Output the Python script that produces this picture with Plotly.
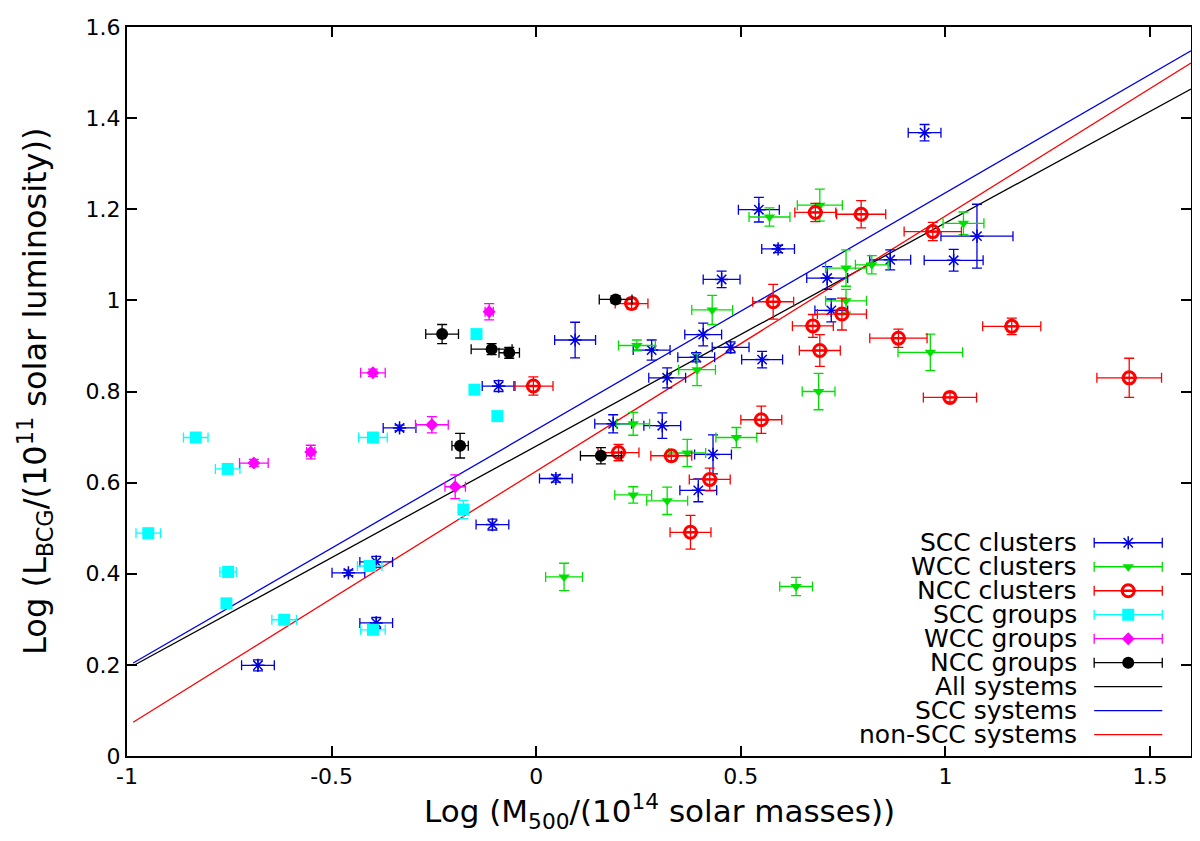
import plotly.graph_objects as go

# ---------------- data ----------------
# SCC clusters (blue asterisks)
scc_cl_x = [-0.680, -0.459, -0.391, -0.391, -0.334, -0.092, -0.107, 0.048, 0.095, 0.188,
            0.308, 0.282, 0.320, 0.391, 0.408, 0.475, 0.552, 0.453, 0.432, 0.396,
            0.544, 0.591, 0.711, 0.721, 0.865, 0.949, 1.020, 1.077]
scc_cl_y = [0.199, 0.402, 0.426, 0.292, 0.720, 0.812, 0.508, 0.609, 0.913, 0.729,
            0.725, 0.891, 0.830, 0.875, 0.925, 0.897, 0.870, 1.046, 0.662, 0.583,
            1.199, 1.113, 1.049, 0.978, 1.089, 1.368, 1.088, 1.141]
scc_cl_xerr = [0.040, 0.040, 0.040, 0.040, 0.040, 0.040, 0.040, 0.040, 0.050, 0.045,
               0.045, 0.045, 0.045, 0.045, 0.045, 0.045, 0.050, 0.045, 0.045, 0.045,
               0.050, 0.040, 0.050, 0.040, 0.050, 0.040, 0.072, 0.088]
scc_cl_yerr = [0.012, 0.006, 0.012, 0.012, 0.006, 0.012, 0.012, 0.008, 0.039, 0.020,
               0.028, 0.022, 0.022, 0.010, 0.025, 0.012, 0.018, 0.018, 0.043, 0.025,
               0.027, 0.008, 0.025, 0.025, 0.022, 0.018, 0.024, 0.070]

# WCC clusters (green triangles)
wcc_cl_x = [0.068, 0.237, 0.320, 0.237, 0.369, 0.489, 0.393, 0.246, 0.430, 0.690,
            0.635, 0.757, 0.757, 0.820, 0.570, 0.693, 1.044, 0.963]
wcc_cl_y = [0.393, 0.573, 0.560, 0.729, 0.665, 0.699, 0.848, 0.901, 0.979, 0.800,
            0.372, 0.999, 1.071, 1.078, 1.183, 1.209, 1.169, 0.886]
wcc_cl_xerr = [0.045, 0.045, 0.050, 0.040, 0.045, 0.050, 0.045, 0.045, 0.050, 0.040,
               0.040, 0.050, 0.050, 0.040, 0.050, 0.055, 0.050, 0.079]
wcc_cl_yerr = [0.030, 0.018, 0.030, 0.025, 0.030, 0.022, 0.035, 0.012, 0.032, 0.040,
               0.020, 0.025, 0.040, 0.020, 0.020, 0.035, 0.025, 0.040]

# NCC clusters (red circles)
ncc_cl_x = [-0.007, 0.233, 0.201, 0.330, 0.424, 0.377, 0.550, 0.579, 0.676, 0.693,
            0.747, 0.682, 0.794, 0.969, 0.885, 1.162, 1.011, 1.449]
ncc_cl_y = [0.812, 0.993, 0.666, 0.659, 0.607, 0.491, 0.738, 0.997, 0.944, 0.890,
            0.970, 1.193, 1.189, 1.151, 0.917, 0.943, 0.787, 0.830]
ncc_cl_xerr = [0.048, 0.040, 0.050, 0.050, 0.050, 0.050, 0.050, 0.050, 0.050, 0.050,
               0.060, 0.050, 0.060, 0.070, 0.070, 0.071, 0.065, 0.079]
ncc_cl_yerr = [0.020, 0.012, 0.018, 0.012, 0.025, 0.037, 0.030, 0.038, 0.025, 0.035,
               0.035, 0.020, 0.030, 0.020, 0.020, 0.018, 0.010, 0.043]

# SCC groups (cyan squares)
scc_gr_x = [-0.948, -0.832, -0.754, -0.753, -0.757, -0.616, -0.399, -0.407, -0.399,
            -0.146, -0.151, -0.095, -0.178]
scc_gr_y = [0.489, 0.699, 0.630, 0.404, 0.335, 0.299, 0.699, 0.417, 0.277,
            0.926, 0.804, 0.746, 0.541]
scc_gr_xerr = [0.030, 0.030, 0.030, 0.020, 0.000, 0.030, 0.035, 0.030, 0.030,
               0.000, 0.010, 0.010, 0.010]
scc_gr_yerr = [0.005, 0.005, 0.005, 0.008, 0.005, 0.005, 0.005, 0.008, 0.008,
               0.005, 0.005, 0.008, 0.020]

# WCC groups (magenta diamonds)
wcc_gr_x = [-0.690, -0.551, -0.399, -0.255, -0.198, -0.115]
wcc_gr_y = [0.643, 0.667, 0.841, 0.727, 0.591, 0.975]
wcc_gr_xerr = [0.035, 0.010, 0.030, 0.040, 0.025, 0.010]
wcc_gr_yerr = [0.008, 0.015, 0.008, 0.018, 0.026, 0.018]

# NCC groups (black circles)
ncc_gr_x = [-0.230, -0.109, -0.066, 0.194, -0.186, 0.158]
ncc_gr_y = [0.926, 0.893, 0.885, 1.002, 0.681, 0.659]
ncc_gr_xerr = [0.040, 0.050, 0.025, 0.040, 0.020, 0.050]
ncc_gr_yerr = [0.021, 0.012, 0.012, 0.008, 0.027, 0.018]

# Fitted relations (end points)
fit_x = [-0.985, 1.6]
fit_all_y = [0.198, 1.464]
fit_scc_y = [0.204, 1.548]
fit_nonscc_y = [0.074, 1.521]

# Axes ticks
x_ticks = [-1, -0.5, 0, 0.5, 1, 1.5]
x_tick_labels = ["-1", "-0.5", "0", "0.5", "1", "1.5"]
y_ticks = [0, 0.2, 0.4, 0.6, 0.8, 1.0, 1.2, 1.4, 1.6]
y_tick_labels = ["0", "0.2", "0.4", "0.6", "0.8", "1", "1.2", "1.4", "1.6"]

legend_labels = ["SCC clusters", "WCC clusters", "NCC clusters", "SCC groups",
                 "WCC groups", "NCC groups", "All systems", "SCC systems", "non-SCC systems"]

x_title = "Log (M<sub>500</sub>/(10<sup>14</sup> solar masses))"
y_title = "Log (L<sub>BCG</sub>/(10<sup>11</sup> solar luminosity))"

# ---------------- styles ----------------
FONT = "DejaVu Sans, Liberation Sans, Arial, sans-serif"
C_BLUE = "#0000e0"
C_GREEN = "#00e000"
C_RED = "#ff0000"
C_CYAN = "#00ffff"
C_MAG = "#ff00ff"
C_BLACK = "#000000"

point_series = [
    (scc_cl_x, scc_cl_y, scc_cl_xerr, scc_cl_yerr, C_BLUE,
     dict(symbol="asterisk-open", size=11, color=C_BLUE, line=dict(color=C_BLUE, width=1.5))),
    (wcc_cl_x, wcc_cl_y, wcc_cl_xerr, wcc_cl_yerr, C_GREEN,
     dict(symbol="triangle-down", size=10, color=C_GREEN, line=dict(width=0))),
    (ncc_cl_x, ncc_cl_y, ncc_cl_xerr, ncc_cl_yerr, C_RED,
     dict(symbol="circle-open", size=12, color=C_RED, line=dict(color=C_RED, width=3))),
    (scc_gr_x, scc_gr_y, scc_gr_xerr, scc_gr_yerr, C_CYAN,
     dict(symbol="square", size=12, color=C_CYAN, line=dict(width=0))),
    (wcc_gr_x, wcc_gr_y, wcc_gr_xerr, wcc_gr_yerr, C_MAG,
     dict(symbol="diamond", size=10, color=C_MAG, line=dict(width=0))),
    (ncc_gr_x, ncc_gr_y, ncc_gr_xerr, ncc_gr_yerr, C_BLACK,
     dict(symbol="circle", size=12, color=C_BLACK, line=dict(width=0))),
]
line_series = [(fit_all_y, C_BLACK), (fit_scc_y, C_BLUE), (fit_nonscc_y, C_RED)]
bar_marker = dict(symbol="line-ew", size=11, color=C_RED, line=dict(color=C_RED, width=2.5))

fig = go.Figure()

# fitted lines
for ys, col in line_series:
    fig.add_trace(go.Scatter(x=fit_x, y=ys, mode="lines",
                             line=dict(color=col, width=1.3), showlegend=False,
                             hoverinfo="skip"))

# data points
for xs, ys, xe, ye, col, mk in point_series:
    fig.add_trace(go.Scatter(
        x=xs, y=ys, mode="markers", marker=mk, showlegend=False,
        error_x=dict(type="data", array=xe, color=col, thickness=1.3, width=5),
        error_y=dict(type="data", array=ye, color=col, thickness=1.3, width=5),
    ))
    if col == C_RED:
        fig.add_trace(go.Scatter(x=xs, y=ys, mode="markers", showlegend=False,
                                 marker=bar_marker))

# ---------------- custom gnuplot-like key (on overlay axis 0..1) ----------------
row_top = 0.2925
row_step = 0.0329
sym_x = 0.941
bar_half = 0.032
text_x = 0.895
for i, label in enumerate(legend_labels):
    ry = row_top - i * row_step
    fig.add_annotation(x=text_x, y=ry, xref="paper", yref="paper", text=label,
                       showarrow=False, xanchor="right", yanchor="middle",
                       font=dict(family=FONT, size=25, color="black"))
    if i < len(point_series):
        _, _, _, _, col, mk = point_series[i]
        fig.add_trace(go.Scatter(
            x=[sym_x], y=[ry], xaxis="x2", yaxis="y2", mode="markers", marker=mk,
            showlegend=False, hoverinfo="skip",
            error_x=dict(type="constant", value=bar_half, color=col, thickness=1.3, width=5)))
        if col == C_RED:
            fig.add_trace(go.Scatter(x=[sym_x], y=[ry], xaxis="x2", yaxis="y2",
                                     mode="markers", showlegend=False, hoverinfo="skip",
                                     marker=bar_marker))
    else:
        ys, col = line_series[i - len(point_series)]
        fig.add_trace(go.Scatter(
            x=[sym_x - bar_half, sym_x + bar_half], y=[ry, ry], xaxis="x2", yaxis="y2",
            mode="lines", line=dict(color=col, width=1.3), showlegend=False,
            hoverinfo="skip"))

# axis titles as annotations (positioned like the gnuplot labels)
fig.add_annotation(x=0.5, y=-0.076, xref="paper", yref="paper", text=x_title,
                   showarrow=False, xanchor="center", yanchor="middle",
                   font=dict(family=FONT, size=31, color="black"))
fig.add_annotation(x=-0.087, y=0.5, xref="paper", yref="paper", text=y_title,
                   showarrow=False, xanchor="center", yanchor="middle", textangle=-90,
                   font=dict(family=FONT, size=32, color="black"))

fig.update_layout(
    width=1192, height=833,
    margin=dict(l=119, r=7, t=12, b=85),
    paper_bgcolor="white", plot_bgcolor="white",
    font=dict(family=FONT, size=22, color="black"),
    showlegend=False,
    xaxis=dict(range=[-1, 1.6], tickvals=x_ticks, ticktext=x_tick_labels,
               ticks="inside", ticklen=10, tickwidth=1.5, tickcolor="black",
               showline=True, linecolor="black", linewidth=2, mirror="ticks",
               showgrid=False, zeroline=False, ticklabeloverflow="allow",
               tickfont=dict(family=FONT, size=22)),
    yaxis=dict(range=[0, 1.6], tickvals=y_ticks, ticktext=y_tick_labels,
               ticks="inside", ticklen=10, tickwidth=1.5, tickcolor="black",
               showline=True, linecolor="black", linewidth=2, mirror="ticks",
               showgrid=False, zeroline=False, ticklabeloverflow="allow",
               tickfont=dict(family=FONT, size=22)),
    xaxis2=dict(range=[0, 1], overlaying="x", visible=False, fixedrange=True),
    yaxis2=dict(range=[0, 1], overlaying="y", visible=False, fixedrange=True),
)

fig.write_html("out.html")
